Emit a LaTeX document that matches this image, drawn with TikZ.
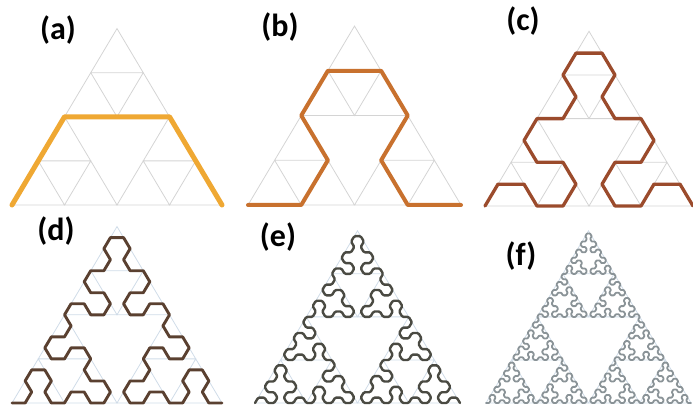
\documentclass[tikz,border=0pt]{standalone}
\usepackage{fontspec}
\setsansfont{Carlito}
\usetikzlibrary{lindenmayersystems}

\pgfdeclarelindenmayersystem{arrowhead}{
  \symbol{A}{\pgflsystemdrawforward}
  \symbol{B}{\pgflsystemdrawforward}
  \rule{A -> B-A-B}
  \rule{B -> A+B+A}
}

\definecolor{curveA}{HTML}{EFA833}
\definecolor{curveB}{HTML}{C8712E}
\definecolor{curveC}{HTML}{9B4B2C}
\definecolor{curveD}{HTML}{5A4030}
\definecolor{curveE}{HTML}{4A4A42}
\definecolor{curveF}{HTML}{8A9397}
\definecolor{gridgray}{HTML}{D4D4D4}
\definecolor{gridblue}{HTML}{D0DCE8}

% Sierpinski grid (two levels) of a triangle with side #1
\newcommand{\sgrid}[2]{%
  \begin{scope}[x=#1pt, y=#1pt]
    \foreach \ox/\oy in {0/0, 0.5/0, 0.25/0.433}
      \draw[#2] (\ox,\oy) -- ++(0.5,0) -- ++(-0.25,0.433) -- cycle
        (\ox+0.25,\oy) -- ++(0.125,0.2165) -- ++(-0.25,0) -- cycle;
  \end{scope}}

\begin{document}
\begin{tikzpicture}[x=1pt,y=1pt]
  \tikzstyle{gridA}=[draw=gridgray, line width=0.8pt]
  \tikzstyle{gridB}=[draw=gridblue, line width=0.8pt]
  \tikzstyle{curve}=[line join=round, line cap=round]
  \tikzstyle{panellabel}=[font=\sffamily\bfseries\fontsize{32}{32}\selectfont, inner sep=0pt]
  \useasboundingbox (0,0) rectangle (693,407);

  % Top row: orders 1 to 3
  \begin{scope}[shift={(12,202)}, yscale=0.97]
    \sgrid{210}{gridA}
    \draw[curve, curveA, line width=5pt,
      lindenmayer system={arrowhead, axiom=+A, order=1, step=105pt, angle=60}] (0,0) lindenmayer system;
  \end{scope}
  \begin{scope}[shift={(248,202)}, yscale=0.97]
    \sgrid{213}{gridA}
    \draw[curve, curveB, line width=4pt,
      lindenmayer system={arrowhead, axiom=A, order=2, step=53.25pt, angle=60}] (0,0) lindenmayer system;
  \end{scope}
  \begin{scope}[shift={(485,201)}, yscale=0.97]
    \sgrid{208}{gridA}
    \draw[curve, curveC, line width=3.3pt,
      lindenmayer system={arrowhead, axiom=+A, order=3, step=26pt, angle=60}] (0,0) lindenmayer system;
  \end{scope}

  % Bottom row: orders 4 to 6
  \begin{scope}[shift={(12,4)}, yscale=0.97]
    \sgrid{210}{gridB}
    \draw[curve, curveD, line width=2.9pt,
      lindenmayer system={arrowhead, axiom=A, order=4, step=13.125pt, angle=60}] (0,0) lindenmayer system;
  \end{scope}
  \begin{scope}[shift={(255,4)}, yscale=0.97]
    \sgrid{205}{gridB}
    \draw[curve, curveE, line width=2.4pt, rounded corners=1.2pt,
      lindenmayer system={arrowhead, axiom=+A, order=5, step=6.406pt, angle=60}] (0,0) lindenmayer system;
  \end{scope}
  \begin{scope}[shift={(486,4)}, yscale=0.97]
    \sgrid{205}{gridB}
    \draw[curve, curveF, line width=1.8pt, rounded corners=0.6pt,
      lindenmayer system={arrowhead, axiom=A, order=6, step=3.203pt, angle=60}] (0,0) lindenmayer system;
  \end{scope}

  % Labels
  \node[panellabel] (la) at (58,377) {(a)};
  \node[panellabel] (lb) at (280,380) {(b)};
  \node[panellabel] (lc) at (523,386) {(c)};
  \node[panellabel] (ld) at (56,176) {(d)};
  \node[panellabel] (le) at (278,170) {(e)};
  \node[panellabel] (lf) at (521,151) {(f)};
\end{tikzpicture}
\end{document}
